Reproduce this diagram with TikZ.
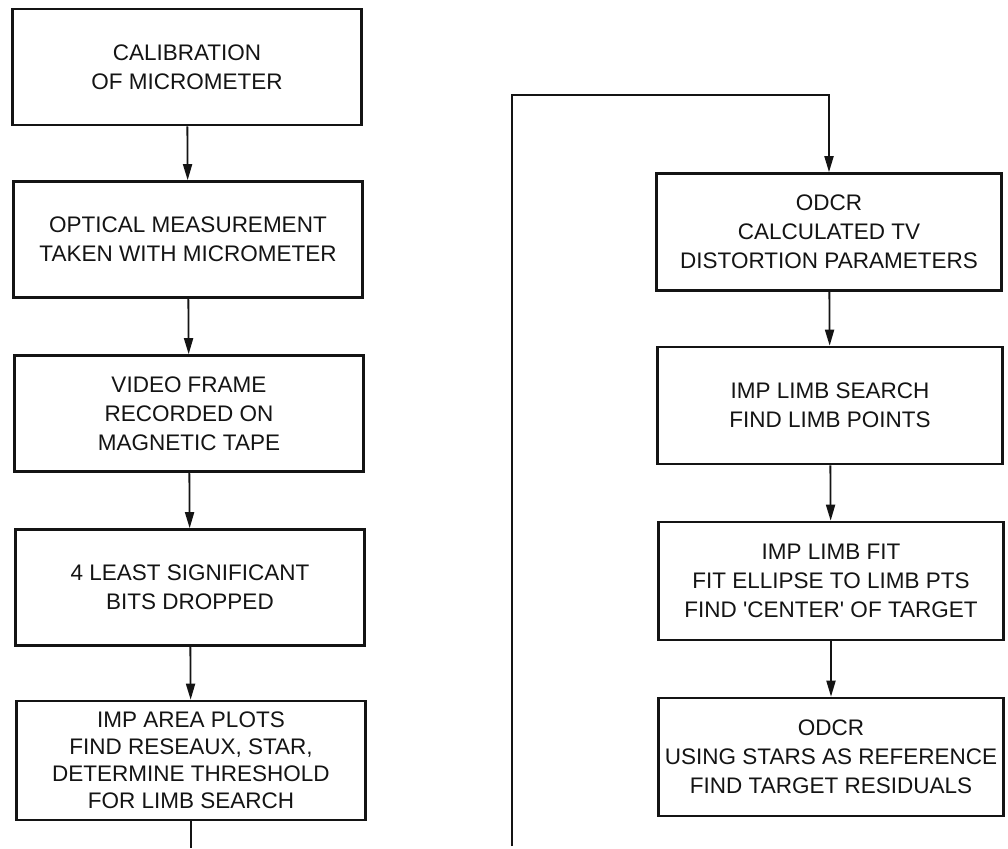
\documentclass[tikz,border=0pt]{standalone}
\usepackage{fontspec}
\setmainfont{Liberation Sans}
\usepackage{xcolor}
\usepackage{tikz}
\usetikzlibrary{arrows.meta,positioning}
\definecolor{fcedge}{RGB}{20,20,20}
\definecolor{fcpaper}{RGB}{255,255,255}
\tikzset{
  proc/.style={
    draw=fcedge, line width=2.6pt, align=center, inner sep=0pt,
    font=\fontsize{22.5}{29}\selectfont, text=fcedge
  },
  lproc/.style={proc, minimum width=349pt, minimum height=116pt},
  rproc/.style={proc, minimum width=345pt, minimum height=117pt},
  arr/.style={-{Triangle[length=16pt,width=9pt]}, draw=fcedge, line width=1.8pt},
  wire/.style={draw=fcedge, line width=1.8pt}
}
\begin{document}
\begin{tikzpicture}[x=1pt,y=-1pt]
  \useasboundingbox[fill=fcpaper] (0,0) rectangle (1008,848);
  % left column
  \node[lproc] (cal) at (187,67) {CALIBRATION\\OF MICROMETER};
  \node[lproc] (opt) at (188,239.5) {OPTICAL MEASUREMENT\\TAKEN WITH MICROMETER};
  \node[lproc] (vid) at (189,413.5) {VIDEO FRAME\\RECORDED ON\\MAGNETIC TAPE};
  \node[lproc] (bits) at (190,587.5) {4 LEAST SIGNIFICANT\\BITS DROPPED};
  \node[lproc, minimum height=119pt, font=\fontsize{22.5}{27}\selectfont] (area) at (191,760.5)
    {IMP AREA PLOTS\\FIND RESEAUX, STAR,\\DETERMINE THRESHOLD\\FOR LIMB SEARCH};
  % right column
  \node[rproc] (dist) at (829,232) {ODCR\\CALCULATED TV\\DISTORTION PARAMETERS};
  \node[rproc] (srch) at (830,405.5) {IMP LIMB SEARCH\\FIND LIMB POINTS};
  \node[rproc, minimum height=118pt] (fit) at (831,581)
    {IMP LIMB FIT\\FIT ELLIPSE TO LIMB PTS\\FIND \textquotesingle CENTER\textquotesingle\ OF TARGET};
  \node[rproc, minimum height=118pt] (resid) at (831,757)
    {ODCR\\USING STARS AS REFERENCE\\FIND TARGET RESIDUALS};
  \coordinate (lout) at (191,848);
  \coordinate (rin) at (512,846);
  \coordinate (rtop) at (512,95);
  \draw[arr] (cal) -- (opt);
  \draw[arr] (opt) -- (vid);
  \draw[arr] (vid) -- (bits);
  \draw[arr] (bits) -- (area);
  \draw[wire] (area.south) -- (lout);
  \draw[arr] (rin) -- (rtop) -| (dist.north);
  \draw[arr] (dist) -- (srch);
  \draw[arr] (srch) -- (fit);
  \draw[arr] (fit) -- (resid);
\end{tikzpicture}
\end{document}
